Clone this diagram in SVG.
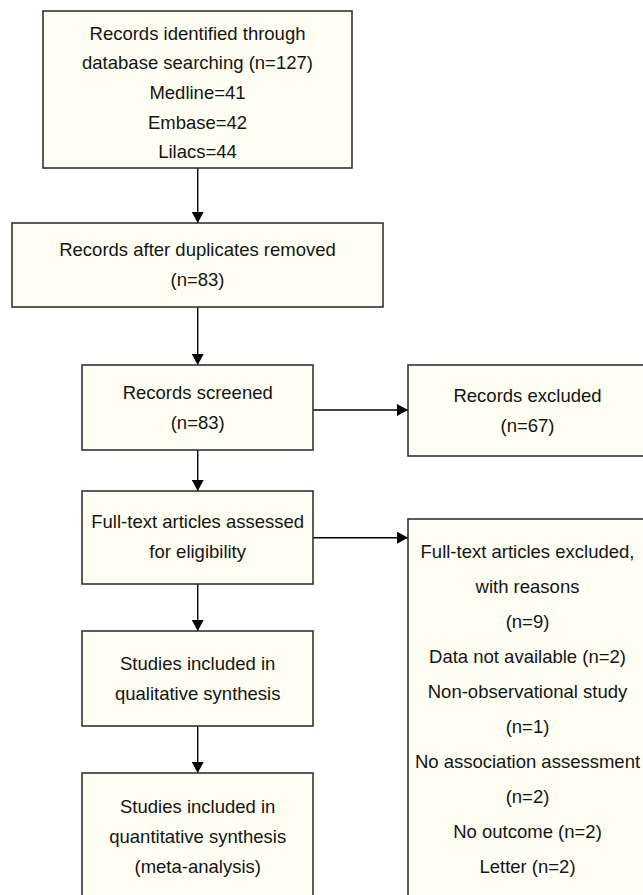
<svg xmlns="http://www.w3.org/2000/svg" width="643" height="895" viewBox="0 0 643 895">
<defs>
<style>
.box{fill:#fefef2;stroke:#333333;stroke-width:1.6}
.t{font-family:"Liberation Sans",Arial,Helvetica,sans-serif;font-size:18.5px;fill:#141414;text-anchor:middle}
.c{stroke:#000000;stroke-width:1.4;fill:none}
</style>
<marker id="ah" markerUnits="userSpaceOnUse" markerWidth="12" markerHeight="12" viewBox="0 0 12 12" refX="11" refY="6" orient="auto">
<path d="M0,0 L11,6 L0,12 Z" fill="#000000"/>
</marker>
</defs>
<rect width="643" height="895" fill="#ffffff"/>
<g id="connectors">
<line class="c" x1="197.7" y1="168" x2="197.7" y2="223" marker-end="url(#ah)"/>
<line class="c" x1="197.7" y1="307" x2="197.7" y2="365" marker-end="url(#ah)"/>
<line class="c" x1="197.7" y1="450" x2="197.7" y2="491" marker-end="url(#ah)"/>
<line class="c" x1="197.7" y1="584" x2="197.7" y2="631" marker-end="url(#ah)"/>
<line class="c" x1="197.7" y1="726" x2="197.7" y2="773" marker-end="url(#ah)"/>
<line class="c" x1="313" y1="410" x2="408" y2="410" marker-end="url(#ah)"/>
<line class="c" x1="313" y1="537.7" x2="408" y2="537.7" marker-end="url(#ah)"/>
</g>
<g id="identified">
<rect class="box" x="43" y="11" width="309" height="157"/>
<text class="t" x="197.5" y="39.5">Records identified through</text>
<text class="t" x="197.5" y="69.2">database searching (n=127)</text>
<text class="t" x="197.5" y="98.9">Medline=41</text>
<text class="t" x="197.5" y="128.6">Embase=42</text>
<text class="t" x="197.5" y="158.3">Lilacs=44</text>
</g>
<g id="duplicates">
<rect class="box" x="12" y="223" width="371" height="84"/>
<text class="t" x="197.5" y="256">Records after duplicates removed</text>
<text class="t" x="197.5" y="286">(n=83)</text>
</g>
<g id="screened">
<rect class="box" x="82" y="365" width="231" height="85"/>
<text class="t" x="197.7" y="399.3">Records screened</text>
<text class="t" x="197.7" y="429.3">(n=83)</text>
</g>
<g id="excluded">
<rect class="box" x="408" y="365" width="242" height="91"/>
<text class="t" x="527.5" y="401.7">Records excluded</text>
<text class="t" x="527.5" y="431.7">(n=67)</text>
</g>
<g id="fulltext">
<rect class="box" x="82" y="491" width="231" height="93"/>
<text class="t" x="197.7" y="528.3">Full-text articles assessed</text>
<text class="t" x="197.7" y="558.3">for eligibility</text>
</g>
<g id="fulltext-excluded">
<rect class="box" x="408" y="519" width="242" height="390"/>
<text class="t" x="527.5" y="558.3">Full-text articles excluded,</text>
<text class="t" x="527.5" y="593.3">with reasons</text>
<text class="t" x="527.5" y="628.3">(n=9)</text>
<text class="t" x="527.5" y="663.3">Data not available (n=2)</text>
<text class="t" x="527.5" y="698.3">Non-observational study</text>
<text class="t" x="527.5" y="733.3">(n=1)</text>
<text class="t" x="527.5" y="768.3">No association assessment</text>
<text class="t" x="527.5" y="803.3">(n=2)</text>
<text class="t" x="527.5" y="838.3">No outcome (n=2)</text>
<text class="t" x="527.5" y="873.3">Letter (n=2)</text>
</g>
<g id="qualitative">
<rect class="box" x="82" y="631" width="231" height="95"/>
<text class="t" x="197.7" y="669.6">Studies included in</text>
<text class="t" x="197.7" y="699.6">qualitative synthesis</text>
</g>
<g id="quantitative">
<rect class="box" x="82" y="773" width="231" height="140"/>
<text class="t" x="197.7" y="813.3">Studies included in</text>
<text class="t" x="197.7" y="843.3">quantitative synthesis</text>
<text class="t" x="197.7" y="873.3">(meta-analysis)</text>
</g>
</svg>
